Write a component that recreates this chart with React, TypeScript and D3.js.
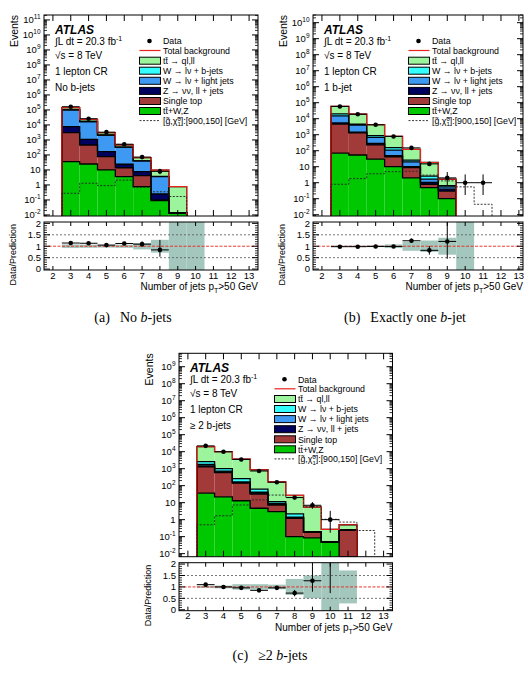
import React from 'react';
import * as d3 from 'd3';

const FONT = '"Liberation Sans", Arial, Helvetica, sans-serif';
const SERIF = '"Liberation Serif", "Times New Roman", serif';

// ---- (a) no b-jets ----
const stackBinsA = [3, 4, 5, 6, 7, 8, 9];
const ttvA = [36, 25, 10, 3.6, 0.78, 0.09, 0.014];
const stopA = [3060, 435, 67, 10.4, 3.4, 0.01, 0];
const zjetsA = [4600, 640, 89, 10, 3.5, 0.15, 0];
const wlightA = [92000, 15500, 1930, 306, 32, 3.35, 0];
const wbA = [2000, 400, 50, 5, 1, 0.1, 0];
const ttbarA = [43000, 6000, 950, 135, 25, 5.9, 0.77];
const dataBinsA = [3, 4, 5, 6, 7, 8];
const dataA = [165000, 26000, 3300, 520, 72, 8];
const dataLoA = [406, 161, 57, 23, 8.5, 2.76];
const dataHiA = [406, 161, 57, 23, 8.5, 3.94];
const ratioA = [1.14, 1.13, 1.05, 1.12, 1.09, 0.84];
const ratioLoA = [0.01, 0.01, 0.02, 0.05, 0.12, 0.3];
const ratioHiA = [0.01, 0.01, 0.02, 0.05, 0.12, 0.44];
const bandBinsA = [3, 4, 5, 6, 7, 8, 9, 10];
const bandA = [0.08, 0.07, 0.06, 0.07, 0.14, 0.28, 1.2, 1.2];
const sigBinsA = [3, 4, 5, 6, 7, 8, 9];
const sigA = [0.28, 1.3, 0.9, 2.1, 0.7, 0.35, 0.17];

// ---- (b) exactly one b-jet ----
const stackBinsB = [3, 4, 5, 6, 7, 8, 9];
const ttvB = [70, 54, 30, 10, 2.0, 0.49, 0.1];
const stopB = [4530, 1250, 200, 32, 6.7, 0.31, 0.2];
const zjetsB = [900, 150, 60, 7, 1.3, 0.25, 0.1];
const wlightB = [9500, 2550, 400, 61, 10, 0.65, 0.15];
const wbB = [5000, 500, 180, 45, 6, 0.9, 0.1];
const ttbarB = [39000, 14900, 3380, 635, 95, 15.7, 1.0];
const dataBinsB = [3, 4, 5, 6, 7, 8, 9, 10, 11];
const dataB = [58000, 19000, 4200, 780, 150, 15, 2, 1, 1];
const dataLoB = [241, 138, 65, 28, 12, 3.8, 1.29, 0.83, 0.83];
const dataHiB = [241, 138, 65, 28, 12, 3.8, 2.64, 2.3, 2.3];
const ratioB = [0.98, 0.98, 0.99, 0.99, 1.24, 0.82, 1.21];
const ratioLoB = [0.005, 0.008, 0.016, 0.036, 0.1, 0.19, 0.76];
const ratioHiB = [0.005, 0.008, 0.016, 0.036, 0.1, 0.19, 1.0];
const bandBinsB = [3, 4, 5, 6, 7, 8, 9, 10];
const bandB = [0.03, 0.03, 0.04, 0.08, 0.2, 0.25, 0.37, 1.2];
const sigBinsB = [3, 4, 5, 6, 7, 8, 9, 10, 11];
const sigB = [0.8, 1.8, 3.6, 4.9, 5.2, 3.0, 1.3, 0.55, 0.045];

// ---- (c) >= 2 b-jets ----
const stackBinsC = [3, 4, 5, 6, 7, 8, 9, 10, 11];
const ttvC = [36, 22, 13, 4.7, 3, 0.1, 0.085, 0.05, 0];
const stopC = [1264, 558, 127, 27.3, 4.3, 1.1, 0.1, 0, 0.25];
const zjetsC = [150, 60, 10, 4, 0.7, 0.1, 0, 0, 0];
const wlightC = [350, 80, 15, 5, 1, 0.1, 0, 0, 0];
const wbC = [800, 280, 95, 22, 2.5, 0.8, 0.01, 0, 0];
const ttbarC = [17400, 9000, 3390, 800, 155, 25, 5.3, 0.22, 0.25];
const dataBinsC = [3, 4, 5, 6, 7, 8, 9, 10];
const dataC = [22000, 10000, 3500, 730, 160, 20, 7, 1];
const dataLoC = [148, 100, 59, 27, 12.6, 4.4, 2.58, 0.83];
const dataHiC = [148, 100, 59, 27, 12.6, 4.4, 3.77, 2.3];
const ratioC = [1.1, 1.0, 0.96, 0.85, 0.96, 0.73, 1.27, 3.7];
const ratioLoC = [0.008, 0.01, 0.016, 0.03, 0.08, 0.14, 0.48, 2.97];
const ratioHiC = [0.008, 0.01, 0.016, 0.03, 0.08, 0.14, 0.63, 8];
const bandBinsC = [3, 4, 5, 6, 7, 8, 9, 10, 11];
const bandC = [0.05, 0.06, 0.12, 0.12, 0.1, 0.35, 0.5, 1.2, 0.72];
const sigBinsC = [3, 4, 5, 6, 7, 8, 9, 10, 11, 12];
const sigC = [0.5, 1.7, 7.3, 14.5, 28, 20, 5.8, 1.05, 0.72, 0.23];

const layerKeys = ['ttv', 'stop', 'zjets', 'wlight', 'wb', 'ttbar'];
const layerColors: Record<string, string> = {
  ttbar: '#9cf59c',
  wb: '#33ffff',
  wlight: '#3d99f2',
  zjets: '#00005e',
  stop: '#a33a3a',
  ttv: '#00c800',
};
const legendLabels: Record<string, string> = {
  ttbar: 'tt\u0304 \u2192 ql,ll',
  wb: 'W \u2192 l\u03bd + b-jets',
  wlight: 'W \u2192 l\u03bd + light jets',
  zjets: 'Z \u2192 \u03bd\u03bd, ll + jets',
  stop: 'Single top',
  ttv: 'tt\u0304+W,Z',
};
const legendOrder = ['ttbar', 'wb', 'wlight', 'zjets', 'stop', 'ttv'];
const xTicks = [2, 3, 4, 5, 6, 7, 8, 9, 10, 11, 12, 13];
const ratioTicks = [0, 0.5, 1, 1.5, 2];
const BAND = '#a4c7bd';
const RED = '#e8231c';

const panels = [
  {
    id: 'a', left: 44, right: 258, top: 15, bottom: 216, rTop: 222, rBottom: 270,
    xMax: 13.5, kMin: -2.07, kMax: 11.33,
    stackBins: stackBinsA, ttv: ttvA, stop: stopA, zjets: zjetsA, wlight: wlightA, wb: wbA, ttbar: ttbarA,
    dataBins: dataBinsA, data: dataA, dataLo: dataLoA, dataHi: dataHiA,
    ratio: ratioA, ratioLo: ratioLoA, ratioHi: ratioHiA,
    bandBins: bandBinsA, band: bandA, sigBins: sigBinsA, sig: sigA,
    region: 'No b-jets', cap: ['(a)', 'No ', 'b', '-jets'], capX: 133, capY: 322,
  },
  {
    id: 'b', left: 313, right: 523, top: 15, bottom: 216, rTop: 222, rBottom: 270,
    xMax: 13.23, kMin: -2.08, kMax: 10.48,
    stackBins: stackBinsB, ttv: ttvB, stop: stopB, zjets: zjetsB, wlight: wlightB, wb: wbB, ttbar: ttbarB,
    dataBins: dataBinsB, data: dataB, dataLo: dataLoB, dataHi: dataHiB,
    ratio: ratioB, ratioLo: ratioLoB, ratioHi: ratioHiB,
    bandBins: bandBinsB, band: bandB, sigBins: sigBinsB, sig: sigB,
    region: '1 b-jet', cap: ['(b)', 'Exactly one ', 'b', '-jet'], capX: 405, capY: 322,
  },
  {
    id: 'c', left: 179, right: 392.5, top: 353.3, bottom: 556.7, rTop: 562.7, rBottom: 610.7,
    xMax: 13.5, kMin: -2.18, kMax: 9.79,
    stackBins: stackBinsC, ttv: ttvC, stop: stopC, zjets: zjetsC, wlight: wlightC, wb: wbC, ttbar: ttbarC,
    dataBins: dataBinsC, data: dataC, dataLo: dataLoC, dataHi: dataHiC,
    ratio: ratioC, ratioLo: ratioLoC, ratioHi: ratioHiC,
    bandBins: bandBinsC, band: bandC, sigBins: sigBinsC, sig: sigC,
    region: '\u2265 2 b-jets', cap: ['(c)', '\u22652 ', 'b', '-jets'], capX: 270, capY: 660,
  },
];

function Panel({ p }: { p: any }) {
  const x = d3.scaleLinear().domain([1.5, p.xMax]).range([p.left, p.right]);
  const yMin = Math.pow(10, p.kMin);
  const y = d3.scaleLog().domain([yMin, Math.pow(10, p.kMax)]).range([p.bottom, p.top]).clamp(true);
  const r = d3.scaleLinear().domain([-0.04, 2.06]).range([p.rBottom, p.rTop]);
  const yv = (v: number) => y(Math.max(v, yMin * 0.5));

  const rows = p.stackBins.map((b: number, i: number) => ({
    bin: b, ttv: p.ttv[i], stop: p.stop[i], zjets: p.zjets[i],
    wlight: p.wlight[i], wb: p.wb[i], ttbar: p.ttbar[i],
  }));
  const series = d3.stack<any>().keys(layerKeys)(rows);
  const total = series[series.length - 1].map((d) => d[1]);

  const stepLine = d3.line().curve(d3.curveStepAfter);
  const step = (bins: number[], vals: number[]) => {
    const n = bins.length;
    const pts: [number, number][] = [[x(bins[0] - 0.5), p.bottom]];
    bins.forEach((b, i) => pts.push([x(b - 0.5), yv(vals[i])]));
    pts.push([x(bins[n - 1] + 0.5), yv(vals[n - 1])]);
    pts.push([x(bins[n - 1] + 0.5), p.bottom]);
    return stepLine(pts) as string;
  };

  // log axis ticks
  const majors = d3.range(Math.ceil(p.kMin), Math.floor(p.kMax) + 1);
  const minors: number[] = [];
  for (let k = Math.floor(p.kMin); k <= Math.ceil(p.kMax); k++) {
    for (let m = 2; m <= 9; m++) {
      const lv = k + Math.log10(m);
      if (lv > p.kMin && lv < p.kMax) minors.push(Math.pow(10, lv));
    }
  }
  const rMinors = d3.range(0, 2.01, 0.1).filter((v) => Math.round(v * 10) % 5 !== 0);
  const xt = xTicks.filter((t) => t < p.xMax);

  const L = p.left;
  const T = p.top;
  const legendRows = [26, 35.5, 45.7, 55.7, 65.8, 75.9, 86, 96, 105.6];
  const LF = 8.8;

  return (
    <g>
      <defs>
        <clipPath id={`main-${p.id}`}>
          <rect x={p.left} y={p.top} width={p.right - p.left} height={p.bottom - p.top} />
        </clipPath>
        <clipPath id={`ratio-${p.id}`}>
          <rect x={p.left} y={p.rTop} width={p.right - p.left} height={p.rBottom - p.rTop} />
        </clipPath>
      </defs>

      {/* stacked backgrounds */}
      <g clipPath={`url(#main-${p.id})`}>
        {series.map((s) => (
          <g key={s.key}>
            {s.map((d, i) => (
              <rect
                key={i}
                x={x(p.stackBins[i] - 0.5)}
                width={x(p.stackBins[i] + 0.5) - x(p.stackBins[i] - 0.5)}
                y={yv(d[1])}
                height={Math.max(0, yv(d[0]) - yv(d[1]))}
                fill={layerColors[s.key]}
              />
            ))}
          </g>
        ))}
        {series.map((s) => (
          <path key={'o' + s.key} d={step(p.stackBins, s.map((d) => d[1]))} fill="none" stroke="#000" strokeWidth={1.3} />
        ))}
        <path d={step(p.stackBins, total)} fill="none" stroke={RED} strokeWidth={1.2} />
        <path d={step(p.sigBins, p.sig)} fill="none" stroke="#222" strokeWidth={0.9} strokeDasharray="2,1.5" />
        {p.dataBins.map((b: number, i: number) => (
          <g key={'d' + b}>
            <line x1={x(b - 0.5)} x2={x(b + 0.5)} y1={yv(p.data[i])} y2={yv(p.data[i])} stroke="#000" strokeWidth={1} />
            <line x1={x(b)} x2={x(b)} y1={yv(p.data[i] - p.dataLo[i])} y2={yv(p.data[i] + p.dataHi[i])} stroke="#000" strokeWidth={1} />
            <circle cx={x(b)} cy={yv(p.data[i])} r={2.3} fill="#000" />
          </g>
        ))}
      </g>

      {/* main frame and ticks */}
      <rect x={p.left} y={p.top} width={p.right - p.left} height={p.bottom - p.top} fill="none" stroke="#000" strokeWidth={1} />
      {majors.map((k) => (
        <g key={'mj' + k}>
          <line x1={p.left} x2={p.left + 6} y1={y(Math.pow(10, k))} y2={y(Math.pow(10, k))} stroke="#000" />
          <line x1={p.right} x2={p.right - 6} y1={y(Math.pow(10, k))} y2={y(Math.pow(10, k))} stroke="#000" />
          <text x={p.left - 3.5} y={y(Math.pow(10, k)) + 3.3} textAnchor="end" fontSize={9.5}>
            {k === 0 ? '1' : k === 1 ? '10' : (
              <>
                <tspan>10</tspan>
                <tspan dy={-4} fontSize={6.5}>{String(k)}</tspan>
              </>
            )}
          </text>
        </g>
      ))}
      {minors.map((v, i) => (
        <g key={'mn' + i}>
          <line x1={p.left} x2={p.left + 3} y1={y(v)} y2={y(v)} stroke="#000" strokeWidth={0.8} />
          <line x1={p.right} x2={p.right - 3} y1={y(v)} y2={y(v)} stroke="#000" strokeWidth={0.8} />
        </g>
      ))}
      {xt.map((t) => (
        <g key={'xt' + t}>
          <line x1={x(t)} x2={x(t)} y1={p.bottom} y2={p.bottom - 6} stroke="#000" />
          <line x1={x(t)} x2={x(t)} y1={p.top} y2={p.top + 6} stroke="#000" />
        </g>
      ))}
      <text transform={`translate(${L - 26},${T}) rotate(-90)`} textAnchor="end" fontSize={10.5}>Events</text>

      {/* labels */}
      <text x={L + 11} y={T + 18.5} fontSize={12} fontWeight="bold" fontStyle="italic">ATLAS</text>
      <text x={L + 11} y={T + 29.5} fontSize={10}>
        <tspan>{'\u222bL dt = 20.3 fb'}</tspan>
        <tspan dy={-4} fontSize={7}>-1</tspan>
      </text>
      <text x={L + 11} y={T + 43.5} fontSize={10}>{'\u221as = 8 TeV'}</text>
      <text x={L + 11} y={T + 60} fontSize={10}>1 lepton CR</text>
      <text x={L + 11} y={T + 75.5} fontSize={10}>{p.region}</text>

      {/* legend */}
      <circle cx={L + 105.5} cy={T + legendRows[0]} r={2.3} fill="#000" />
      <text x={L + 119} y={T + legendRows[0] + 3.2} fontSize={LF}>Data</text>
      <line x1={L + 95.5} x2={L + 116.5} y1={T + legendRows[1]} y2={T + legendRows[1]} stroke={RED} strokeWidth={1.2} />
      <text x={L + 119} y={T + legendRows[1] + 3.2} fontSize={LF}>Total background</text>
      {legendOrder.map((key, i) => (
        <g key={'lg' + key}>
          <rect x={L + 95.5} y={T + legendRows[i + 2] - 3.5} width={21} height={7} fill={layerColors[key]} stroke="#000" strokeWidth={1} />
          <text x={L + 119} y={T + legendRows[i + 2] + 3.2} fontSize={LF}>{legendLabels[key]}</text>
        </g>
      ))}
      <line x1={L + 95.5} x2={L + 116.5} y1={T + legendRows[8]} y2={T + legendRows[8]} stroke="#222" strokeWidth={0.9} strokeDasharray="2,1.5" />
      <text x={L + 119} y={T + legendRows[8] + 3.2} fontSize={LF}>
        <tspan>{'[g\u0303,\u03c7\u0303'}</tspan>
        <tspan dy={-3} fontSize={6}>0</tspan>
        <tspan dx={-3.3} dy={5.5} fontSize={6}>1</tspan>
        <tspan dy={-2.5}>]:[900,150] [GeV]</tspan>
      </text>

      {/* ratio panel */}
      <g clipPath={`url(#ratio-${p.id})`}>
        {p.bandBins.map((b: number, i: number) => (
          <rect
            key={'bd' + b}
            x={x(b - 0.5)}
            width={x(b + 0.5) - x(b - 0.5)}
            y={r(1 + p.band[i])}
            height={r(1 - p.band[i]) - r(1 + p.band[i])}
            fill={BAND}
          />
        ))}
        {[0.5, 1.5].map((v) => (
          <line key={'g' + v} x1={p.left} x2={p.right} y1={r(v)} y2={r(v)} stroke="#555" strokeWidth={0.8} strokeDasharray="2,2" />
        ))}
        <line x1={p.left} x2={p.right} y1={r(1)} y2={r(1)} stroke={RED} strokeWidth={0.9} strokeDasharray="3,1.5" />
        {p.ratio.map((v: number, i: number) => {
          const b = p.dataBins[i];
          return (
            <g key={'r' + b}>
              <line x1={x(b - 0.5)} x2={x(b + 0.5)} y1={r(v)} y2={r(v)} stroke="#000" strokeWidth={1} />
              <line x1={x(b)} x2={x(b)} y1={r(v - p.ratioLo[i])} y2={r(v + p.ratioHi[i])} stroke="#000" strokeWidth={1} />
              <circle cx={x(b)} cy={r(v)} r={2.3} fill="#000" />
            </g>
          );
        })}
      </g>
      <rect x={p.left} y={p.rTop} width={p.right - p.left} height={p.rBottom - p.rTop} fill="none" stroke="#000" strokeWidth={1} />
      {ratioTicks.map((v) => (
        <g key={'rt' + v}>
          <line x1={p.left} x2={p.left + 6} y1={r(v)} y2={r(v)} stroke="#000" />
          <line x1={p.right} x2={p.right - 6} y1={r(v)} y2={r(v)} stroke="#000" />
          <text x={p.left - 3} y={r(v) + 3.3} textAnchor="end" fontSize={9.5}>{String(v)}</text>
        </g>
      ))}
      {rMinors.map((v, i) => (
        <g key={'rm' + i}>
          <line x1={p.left} x2={p.left + 3} y1={r(v)} y2={r(v)} stroke="#000" strokeWidth={0.8} />
          <line x1={p.right} x2={p.right - 3} y1={r(v)} y2={r(v)} stroke="#000" strokeWidth={0.8} />
        </g>
      ))}
      {xt.map((t) => (
        <g key={'rx' + t}>
          <line x1={x(t)} x2={x(t)} y1={p.rBottom} y2={p.rBottom - 4} stroke="#000" />
          <line x1={x(t)} x2={x(t)} y1={p.rTop} y2={p.rTop + 4} stroke="#000" />
          <text x={x(t)} y={p.rBottom + 8.5} textAnchor="middle" fontSize={9.5}>{String(t)}</text>
        </g>
      ))}
      <text transform={`translate(${L - 28},${p.rTop + 2}) rotate(-90)`} textAnchor="end" fontSize={9}>Data/Prediction</text>
      <text x={p.right} y={p.rBottom + 20} textAnchor="end" fontSize={10}>
        <tspan>Number of jets p</tspan>
        <tspan dy={3} fontSize={7}>T</tspan>
        <tspan dy={-3}>&gt;50 GeV</tspan>
      </text>

      {/* caption */}
      <text x={p.capX} y={p.capY} textAnchor="middle" fontSize={14} fontFamily={SERIF}>
        <tspan>{p.cap[0]}</tspan>
        <tspan dx={10}>{p.cap[1]}</tspan>
        <tspan fontStyle="italic">{p.cap[2]}</tspan>
        <tspan>{p.cap[3]}</tspan>
      </text>
    </g>
  );
}

export default function App() {
  return (
    <svg
      width={531}
      height={676}
      style={{ position: 'absolute', left: 0, top: 0, background: '#fff' }}
      fontFamily={FONT}
    >
      {panels.map((p) => (
        <Panel key={p.id} p={p} />
      ))}
    </svg>
  );
}
